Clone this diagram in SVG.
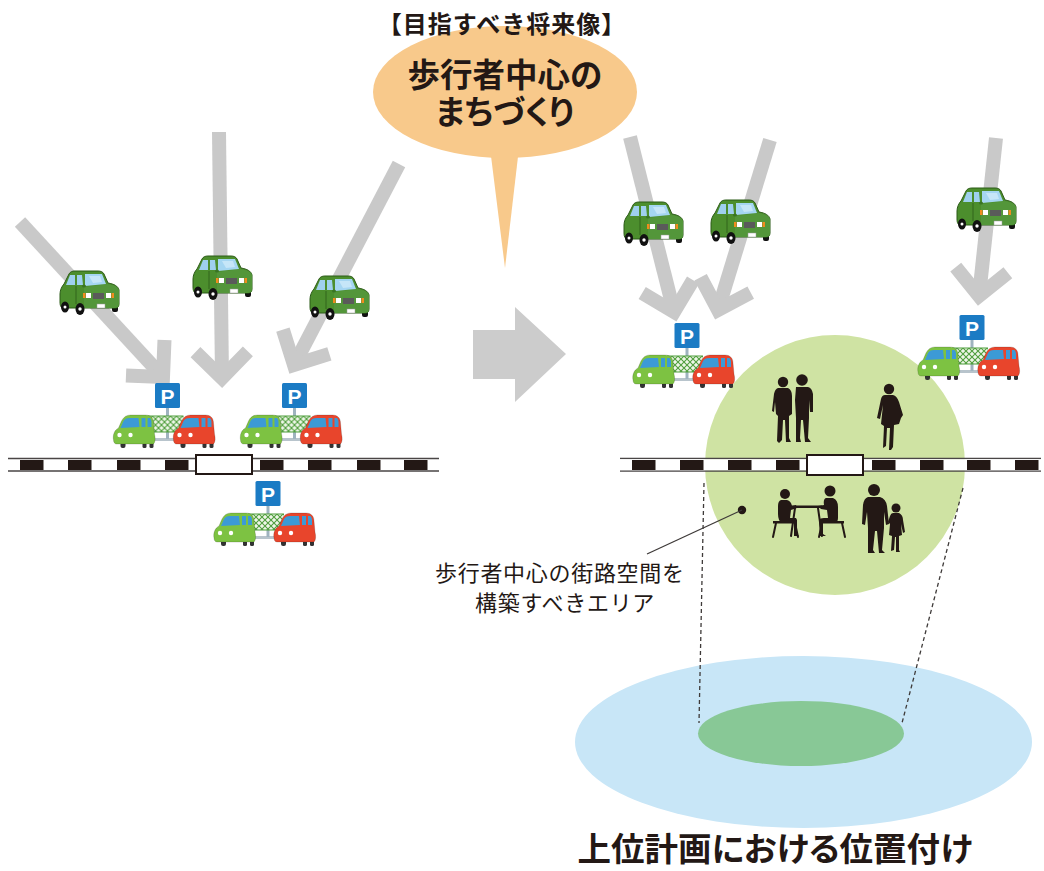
<svg xmlns="http://www.w3.org/2000/svg" xmlns:xlink="http://www.w3.org/1999/xlink" width="1044" height="871" viewBox="0 0 1044 871">
  <style>
    .jp { font-family: "Noto Sans CJK JP", "Noto Sans", sans-serif; fill: #231815; }
    .bold { font-weight: 700; }
    .palt { font-feature-settings: "palt"; }
    .flow { stroke: #C9C9C9; stroke-width: 14; fill: none; stroke-linecap: butt; marker-end: url(#chev); }
    .rail { stroke: #4a4646; stroke-width: 1.3; fill: none; }
    .blk { fill: #231815; }
    .gate { fill: #ffffff; stroke: #231815; stroke-width: 2; }
    .person { fill: #231815; }
    .leg { stroke: #231815; stroke-width: 2; fill: none; stroke-linecap: round; }
    .dash { stroke: #3e3a39; stroke-width: 1.3; stroke-dasharray: 4 3; fill: none; }
  </style>
  <defs>
    <marker id="chev" markerUnits="userSpaceOnUse" orient="auto" refX="0" refY="0" markerWidth="80" markerHeight="80" viewBox="-40 -40 80 80" overflow="visible">
      <path d="M -26.2 -26.2 L 0 0 L -26.2 26.2" fill="none" stroke="#C9C9C9" stroke-width="14" stroke-linejoin="miter"/>
    </marker>
    <pattern id="lattice" patternUnits="userSpaceOnUse" width="6" height="6">
      <rect width="6" height="6" fill="#eef6e8"/>
      <path d="M0 0 L6 6 M6 0 L0 6" stroke="#4f9e3d" stroke-width="1.1"/>
    </pattern>
    <!-- green sedan, three-quarter view, 62 x 45 -->
    <g id="sedan">
      <rect x="54" y="33" width="6" height="9" rx="2" fill="#111"/>
      <path d="M2 32 L2 24 C2 20 4 16 6 14 L11 4 C12 2 14 1 17 1 L40 1 C43 1 45 2 46 4 L50 13 C56 14 60 16 61 20 L61 34 C61 37 59 38 57 38 L6 38 C3 38 2 36 2 32 Z" fill="#4c8e2d" stroke="#2b5a17" stroke-width="1"/>
      <path d="M26 17 L50 14 C56 15 60 17 61 20 L61 34 C61 37 59 38 57 38 L26 38 Z" fill="#53963a"/>
      <path d="M8 15 L12 5 L17 5 L17 15 Z M19 5 L24 5 L25 15 L19 15 Z" fill="#9fd0ee"/>
      <path d="M27 4 L44 4 L48 14 L27 16 Z" fill="#a5d6f2"/>
      <path d="M31 6 L42 6 L44 12 L35 13 Z" fill="#c6e6f8"/>
      <path d="M18 16 L18 34" stroke="#2b5a17" stroke-width="0.8"/>
      <ellipse cx="26" cy="16" rx="2" ry="1.5" fill="#3a7424"/>
      <rect x="25" y="23" width="2.5" height="5" fill="#f08c1e"/>
      <rect x="28" y="23" width="5" height="5" fill="#ffffff"/>
      <rect x="35" y="23" width="11" height="6" fill="#5a5a5a"/>
      <rect x="48" y="23" width="5" height="5" fill="#ffffff"/>
      <rect x="53.5" y="23" width="2.5" height="5" fill="#f08c1e"/>
      <rect x="39" y="34" width="8" height="4" fill="#ffffff" stroke="#999" stroke-width="0.5"/>
      <ellipse cx="7" cy="37" rx="4" ry="5.5" fill="#111"/>
      <circle cx="7" cy="37" r="1.5" fill="#fff"/>
      <ellipse cx="22" cy="39" rx="4.5" ry="6" fill="#111"/>
      <circle cx="22" cy="39" r="1.7" fill="#fff"/>
    </g>
    <!-- small parked car, facing left, 43 x 34; body colour from the use element -->
    <g id="kei">
      <rect x="8" y="27" width="5" height="7" rx="2" fill="#333"/>
      <rect x="30" y="27" width="4" height="7" rx="1.5" fill="#333"/>
      <rect x="37" y="27" width="4" height="7" rx="1.5" fill="#333"/>
      <path d="M1 26 C0 21 2 16 6 14 L9 7 C11 3 14 1 18 1 L33 1 C38 1 41 4 41 9 L42 20 C43 24 43 28 41 30 L4 30 C2 30 1 28 1 26 Z" stroke="rgba(0,0,0,0.2)" stroke-width="0.8"/>
      <path d="M8 14 L11 7 C12 5 14 4 17 4 L26 4 L27 13 Z" fill="#3c9ad6"/>
      <path d="M29 4 L33 4 L33 13 L29 13 Z M35 4 L37 4 C38 4 39 6 39 8 L39 13 L35 13 Z" fill="#3c9ad6"/>
      <circle cx="7" cy="21" r="2.2" fill="#fff"/>
      <circle cx="18" cy="21" r="2.2" fill="#fff"/>
    </g>
    <!-- parking lot: sign, fence and two cars; origin = top centre of sign -->
    <g id="lot">
      <rect x="-14" y="55" width="22" height="3" fill="#b8c4cc"/>
      <rect x="-1.5" y="24" width="3" height="32" fill="#9fb3bf"/>
      <rect x="-20" y="33" width="36" height="16" fill="url(#lattice)"/>
      <path d="M-20 33 H16 M-20 49 H16" stroke="#4f9e3d" stroke-width="1.2"/>
      <rect x="-12.5" y="0" width="25" height="25" rx="1.5" fill="#1b7bc4"/>
      <text x="0" y="20.5" text-anchor="middle" font-family="Liberation Sans, Arial, sans-serif" font-weight="700" font-size="21" fill="#ffffff">P</text>
      <use href="#kei" x="-55" y="31" fill="#7dc242"/>
      <use href="#kei" x="5" y="31" fill="#e8452c"/>
    </g>
  </defs>

  <rect width="1044" height="871" fill="#ffffff"/>

  <!-- traffic flows -->
  <g id="connectors">
    <line class="flow" x1="20" y1="222" x2="163" y2="377"/>
    <line class="flow" x1="219" y1="132" x2="222" y2="378"/>
    <line class="flow" x1="399" y1="164" x2="294" y2="365"/>
    <line class="flow" x1="630" y1="137" x2="674" y2="312"/>
    <line class="flow" x1="770" y1="140" x2="718" y2="310"/>
    <line class="flow" x1="996" y1="138" x2="979" y2="296"/>
  </g>

  <!-- speech bubble with heading -->
  <g id="bubble">
    <ellipse cx="505" cy="92" rx="132" ry="66" fill="#f8c98b"/>
    <polygon points="490,148 519,148 505,268" fill="#f8c98b"/>
    <text class="jp bold" x="502" y="33" font-size="24" letter-spacing="1" text-anchor="middle">【目指すべき将来像】</text>
    <text class="jp bold" x="505" y="87" font-size="32.5" text-anchor="middle">歩行者中心の</text>
    <text class="jp bold palt" x="505" y="124" font-size="32.5" text-anchor="middle">まちづくり</text>
  </g>

  <!-- transition arrow -->
  <g id="transition">
    <polygon points="473,330 515,330 515,307 566,354 515,402 515,379 473,379" fill="#cccccc"/>
  </g>

  <!-- cars heading into the centre -->
  <g id="cars-left">
    <use href="#sedan" x="58" y="270"/>
    <use href="#sedan" x="191" y="255"/>
    <use href="#sedan" x="308" y="275"/>
  </g>
  <g id="cars-right">
    <use href="#sedan" x="622" y="201"/>
    <use href="#sedan" x="709" y="199"/>
    <use href="#sedan" x="955" y="187"/>
  </g>

  <!-- pedestrian area -->
  <g id="area">
    <circle cx="835" cy="465" r="130" fill="#cfe3a3"/>
  </g>

  <!-- streets -->
  <g id="street-left">
    <path class="rail" d="M8 458.5 H439 M8 471 H439"/>
    <rect class="blk" x="20" y="460" width="23.5" height="10"/>
    <rect class="blk" x="68" y="460" width="23.5" height="10"/>
    <rect class="blk" x="117" y="460" width="23.5" height="10"/>
    <rect class="blk" x="165" y="460" width="23.5" height="10"/>
    <rect class="blk" x="260" y="460" width="23.5" height="10"/>
    <rect class="blk" x="308" y="460" width="23.5" height="10"/>
    <rect class="blk" x="357" y="460" width="23.5" height="10"/>
    <rect class="blk" x="404" y="460" width="23.5" height="10"/>
    <rect class="gate" x="196" y="455" width="56" height="19"/>
  </g>
  <g id="street-right">
    <path class="rail" d="M620 458.5 H1041 M620 471 H1041"/>
    <rect x="620" y="459.2" width="421" height="11.1" fill="#ffffff"/>
    <rect class="blk" x="632" y="460" width="23.5" height="10"/>
    <rect class="blk" x="680" y="460" width="23.5" height="10"/>
    <rect class="blk" x="728" y="460" width="23.5" height="10"/>
    <rect class="blk" x="776" y="460" width="23.5" height="10"/>
    <rect class="blk" x="872" y="460" width="23.5" height="10"/>
    <rect class="blk" x="920" y="460" width="23.5" height="10"/>
    <rect class="blk" x="967" y="460" width="23.5" height="10"/>
    <rect class="blk" x="1015" y="460" width="23.5" height="10"/>
    <rect class="gate" x="807" y="455" width="56" height="20"/>
  </g>

  <!-- parking lots -->
  <g id="parking-1"><use href="#lot" x="167.5" y="383"/></g>
  <g id="parking-2"><use href="#lot" x="294.5" y="383"/></g>
  <g id="parking-3"><use href="#lot" x="268" y="481"/></g>
  <g id="parking-4"><use href="#lot" x="687" y="323"/></g>
  <g id="parking-5"><use href="#lot" x="972" y="315"/></g>

  <!-- people in the pedestrian area -->
  <g id="people">
    <circle class="person" cx="783" cy="382" r="5.2"/>
    <path class="person" d="M778 388 L788 388 Q792 390 792 396 L792 414 L789 416 L789 438 L791 442 L786 442 L785 420 L783 420 L782 440 L779 443 L777 441 L778 416 L776 414 L775 402 L774 412 L772 411 L774 394 Q775 389 778 388 Z"/>
    <circle class="person" cx="802" cy="380" r="5.8"/>
    <path class="person" d="M796 387 L808 387 Q812 388 813 394 L813 412 L810 412 L809 400 L809 418 L808 438 L811 442 L805 442 L803 420 L801 420 L800 438 L801 442 L796 442 L796 418 L795 400 Z"/>

    <circle class="person" cx="889" cy="389" r="5.2"/>
    <path class="person" d="M885 395 L893 395 Q897 396 899 402 L903 415 L901 418 L899 424 L894 425 L893 447 L891 450 L889 450 L890 428 L887 428 L886 446 L883 448 L884 426 L881 424 L883 405 L880 419 L877 418 L881 399 Q882 395 885 395 Z"/>

    <rect class="person" x="773" y="521" width="24" height="2.5"/>
    <path class="leg" d="M776 523 L773 537 M795 523 L798 537"/>
    <circle class="person" cx="785" cy="494" r="5"/>
    <path class="person" d="M781 500 L787 500 Q791 501 792 506 L796 505 L797 508 L791 510 L790 518 L796 518 L797 520 L797 534 L799 536 L794 536 L794 523 L782 523 Q778 521 778 514 L778 506 Q778 501 781 500 Z"/>
    <rect class="person" x="791" y="505.5" width="31" height="2.5"/>
    <path class="leg" d="M795 508 L791 536 M818 508 L822 536"/>
    <rect class="person" x="820" y="521" width="24" height="2.5"/>
    <path class="leg" d="M822 523 L819 537 M842 523 L845 537"/>
    <circle class="person" cx="830" cy="491" r="5.5"/>
    <path class="person" d="M826 498 L833 498 Q838 500 838 507 L838 518 Q838 523 834 523 L823 523 L823 534 L826 536 L820 536 L819 520 Q820 518 824 518 L828 518 L827 510 L821 509 L818 506 L824 505 Q823 499 826 498 Z"/>

    <circle class="person" cx="874" cy="490" r="6"/>
    <path class="person" d="M868 497 L880 497 Q886 499 887 506 L889 524 L886 525 L884 512 L884 528 L882 550 L885 553 L879 553 L877 531 L875 531 L873 550 L875 553 L868 553 L868 528 L867 512 L865 525 L862 524 L863 505 Q864 498 868 497 Z"/>
    <circle class="person" cx="896" cy="508" r="4.5"/>
    <path class="person" d="M893 513 L899 513 Q903 515 903 520 L905 532 L903 533 L901 524 L902 535 L899 536 L899 550 L900 552 L896 552 L896 537 L895 537 L894 550 L891 551 L892 536 L889 535 L890 524 L888 522 L890 516 Q891 513 893 513 Z"/>
  </g>

  <!-- callout for the area -->
  <g id="callout">
    <circle cx="742" cy="510" r="4.2" fill="#231815"/>
    <line x1="742" y1="510" x2="647" y2="554" stroke="#3e3a39" stroke-width="1.3"/>
    <text class="jp" x="435" y="581" font-size="22" letter-spacing="0.7" fill="#3e3a39">歩行者中心の街路空間を</text>
    <text class="jp" x="475" y="611" font-size="22" letter-spacing="0.7" fill="#3e3a39">構築すべきエリア</text>
  </g>

  <!-- position in the upper-level plan -->
  <g id="plan">
    <ellipse cx="803.5" cy="742" rx="228.5" ry="86" fill="#c8e6f7"/>
    <ellipse cx="801" cy="733.5" rx="103" ry="32.5" fill="#88c896"/>
    <path class="dash" d="M704 483 L699 723"/>
    <path class="dash" d="M963 488 L902 723"/>
    <text class="jp bold palt" x="775" y="861" font-size="33.5" text-anchor="middle">上位計画における位置付け</text>
  </g>
</svg>
